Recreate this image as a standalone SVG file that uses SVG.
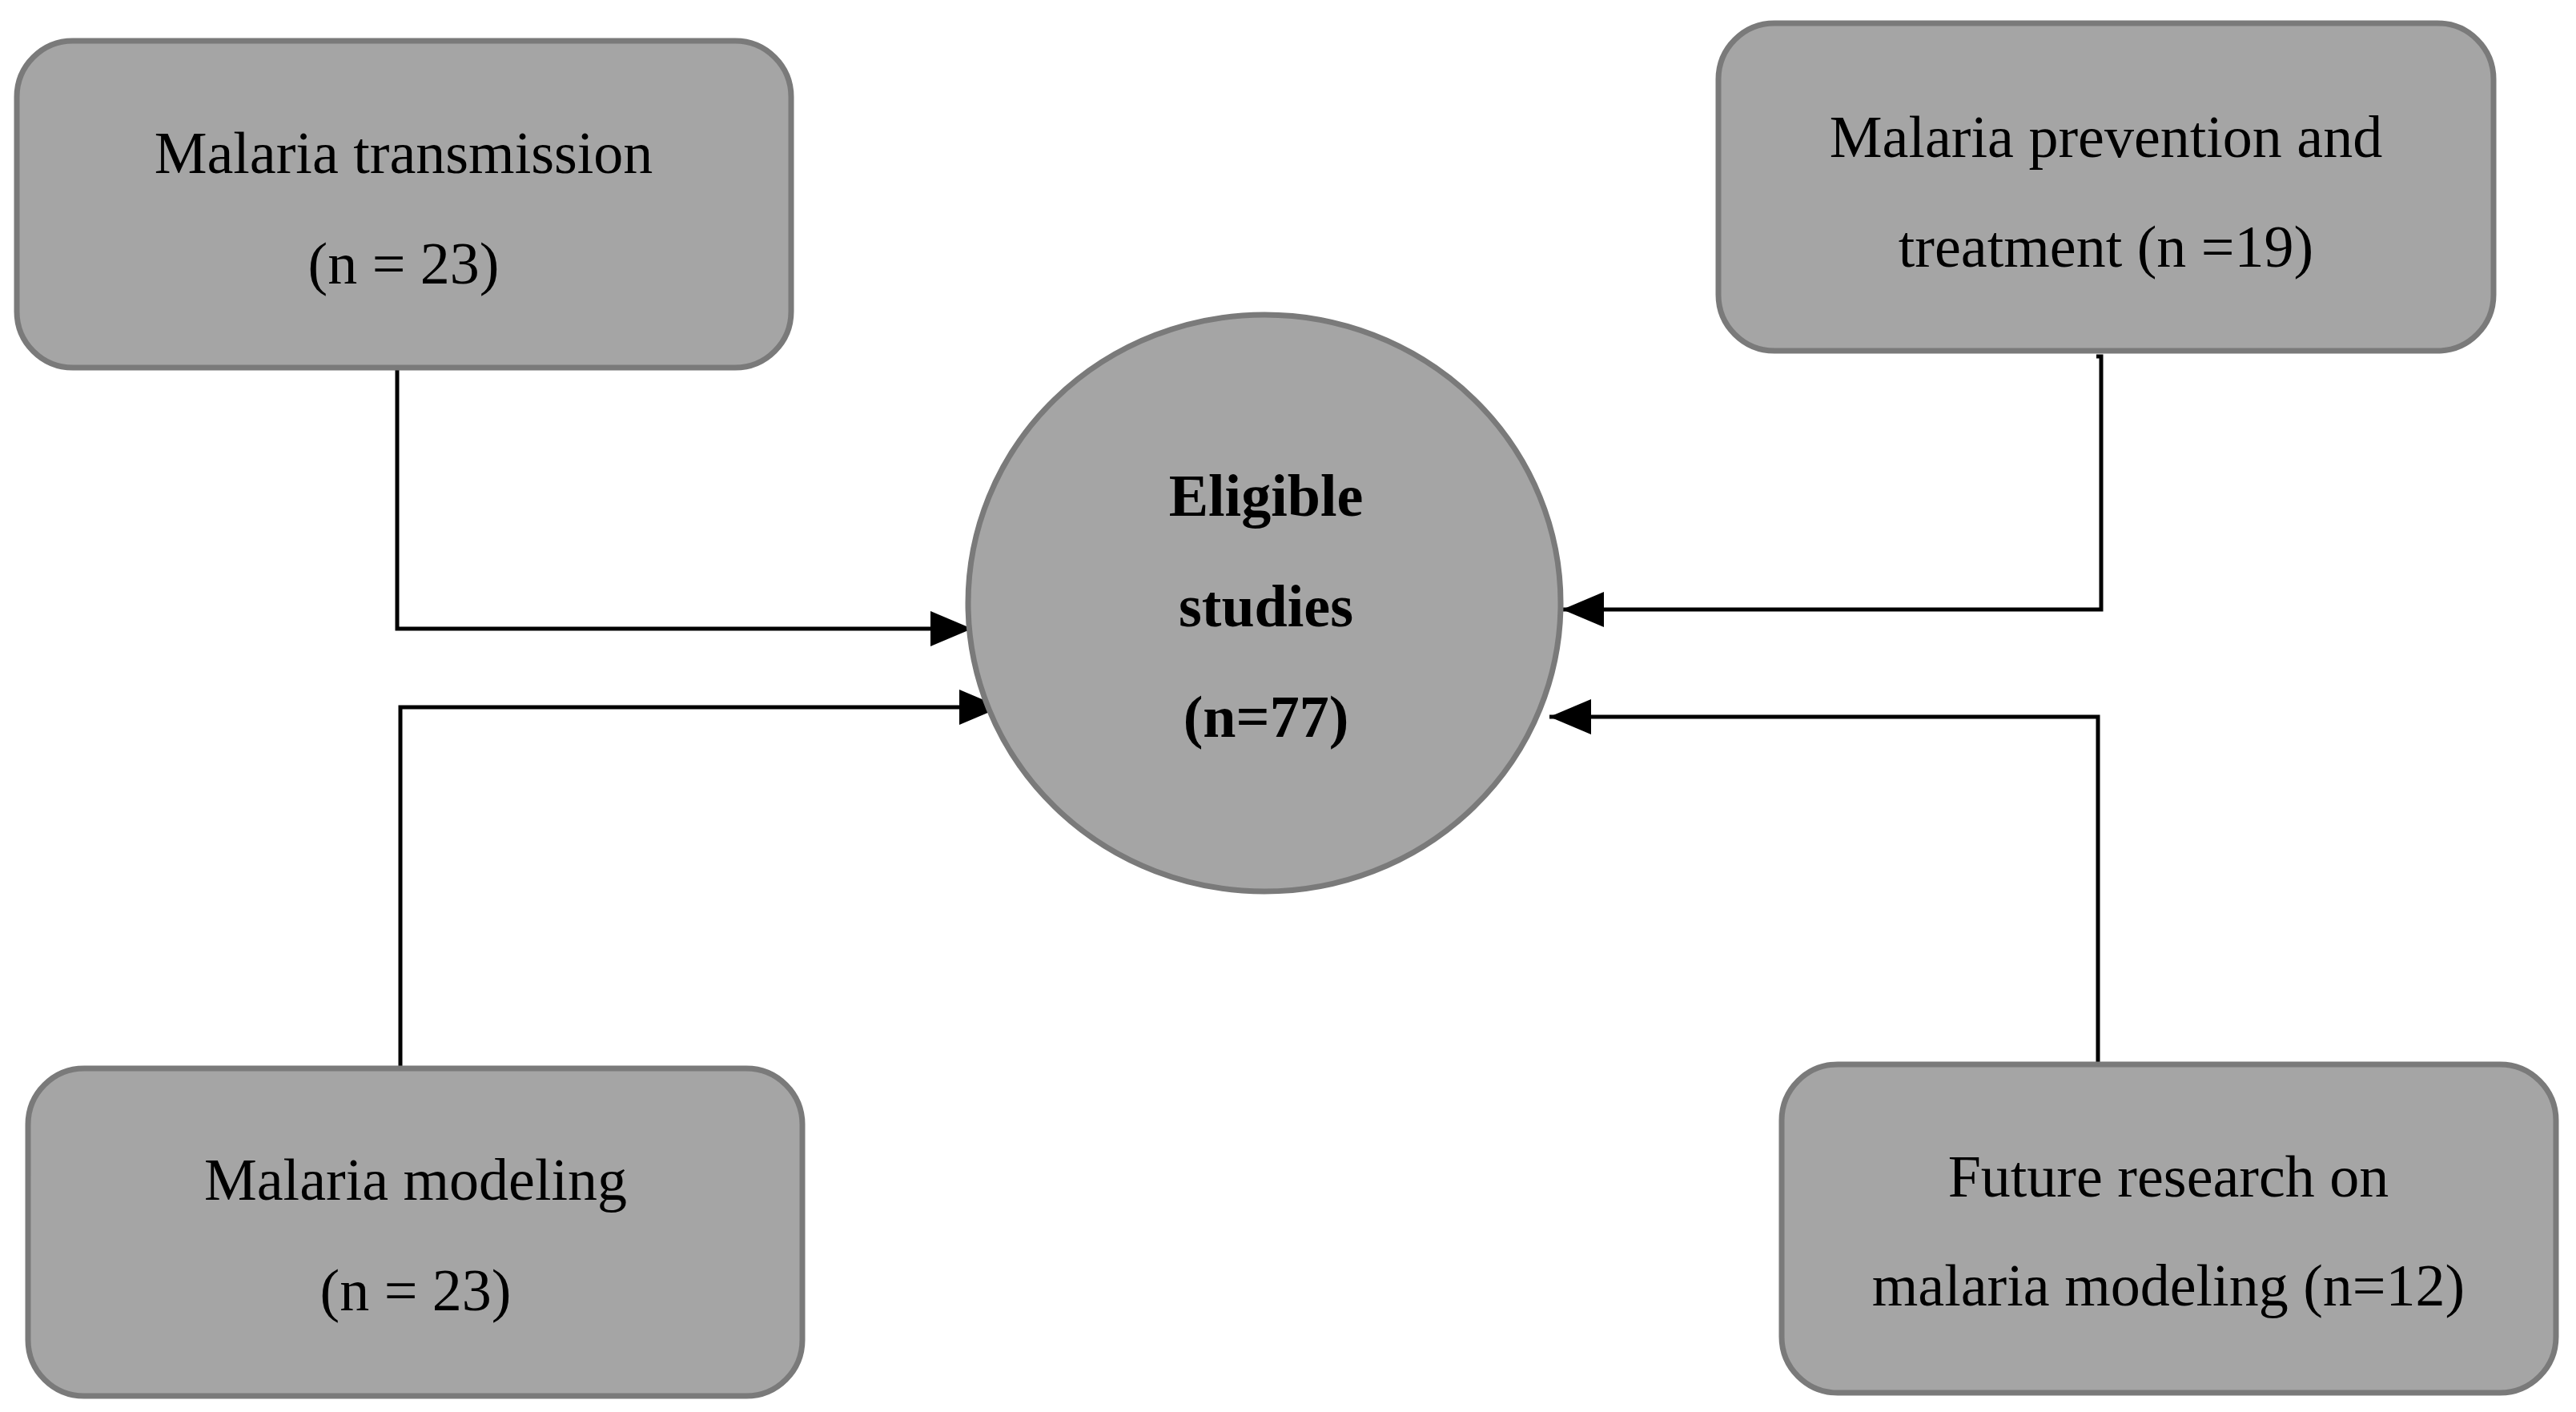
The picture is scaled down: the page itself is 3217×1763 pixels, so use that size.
<svg xmlns="http://www.w3.org/2000/svg" width="3217" height="1763" viewBox="0 0 3217 1763">
<style>
.box{fill:#a5a5a5;stroke:#7a7a7a;stroke-width:7}
.t{font-family:"Liberation Serif",serif;font-size:74px;fill:#000;text-anchor:middle}
.b{font-weight:bold}
.c{fill:none;stroke:#000;stroke-width:5}
</style>
<defs><marker id="a" markerUnits="userSpaceOnUse" markerWidth="52" markerHeight="44" refX="52" refY="22" orient="auto"><path d="M0,0 L52,22 L0,44 Z" fill="#000"/></marker></defs>
<rect width="3217" height="1763" fill="#fff"/>
<g id="connectors">
<path class="c" d="M496,459 V785 H1214" marker-end="url(#a)"/>
<path class="c" d="M792,1334 H500 V883 H1250" marker-end="url(#a)"/>
<path class="c" d="M2618,445 H2624 V761 H1951" marker-end="url(#a)"/>
<path class="c" d="M2620,1329 V895 H1935" marker-end="url(#a)"/>
</g>
<g id="n1"><rect class="box" x="21" y="51" width="967" height="408" rx="70"/>
<text class="t" x="504" y="216">Malaria transmission</text><text class="t" x="504" y="354">(n = 23)</text></g>
<g id="n2"><rect class="box" x="2146" y="29" width="968" height="409" rx="70"/>
<text class="t" x="2630" y="196">Malaria prevention and</text><text class="t" x="2630" y="333">treatment (n =19)</text></g>
<g id="n3"><rect class="box" x="35" y="1334" width="967" height="409" rx="70"/>
<text class="t" x="519" y="1498">Malaria modeling</text><text class="t" x="519" y="1636">(n = 23)</text></g>
<g id="n4"><rect class="box" x="2225" y="1329" width="967" height="410" rx="70"/>
<text class="t" x="2708" y="1494">Future research on</text><text class="t" x="2708" y="1630">malaria modeling (n=12)</text></g>
<g id="center"><ellipse class="box" cx="1579" cy="753" rx="370" ry="360"/>
<text class="t b" x="1581" y="644">Eligible</text><text class="t b" x="1581" y="782">studies</text><text class="t b" x="1581" y="920">(n=77)</text></g>
</svg>
